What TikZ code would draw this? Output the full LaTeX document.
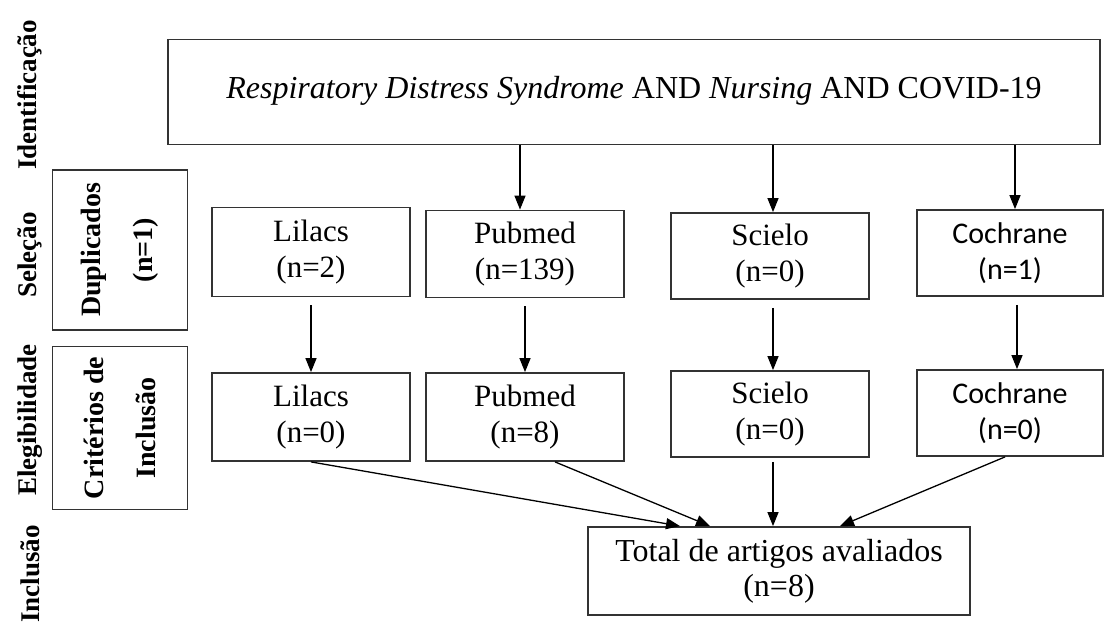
\documentclass[tikz,border=0pt]{standalone}
\usepackage{fontspec}
\setmainfont{Liberation Serif}
\newfontfamily\calibrifont{Carlito}
\usetikzlibrary{arrows.meta,positioning}

\begin{document}
\begin{tikzpicture}[x=1pt, y=-1pt, ->, >={Triangle[width=11pt,length=14pt]}, line width=1.3pt,
	box/.style={draw=black!80, line width=1.8pt, align=center, minimum width=198pt, minimum height=87pt, inner sep=0pt, font=\fontsize{31}{36}\selectfont},
	sidebox/.style={draw=black!80, line width=1.8pt, align=center, minimum width=160pt, minimum height=135pt, inner sep=0pt, rotate=90, font=\fontsize{28}{52}\selectfont\bfseries},
	phase/.style={rotate=90, inner sep=0pt, font=\fontsize{27}{30}\selectfont\bfseries}]
	\useasboundingbox (0,0) rectangle (1105,628);
	% fases
	\node[phase] (ident) at (30,95) {Identificação};
	\node[phase] (selec) at (30,255) {Seleção};
	\node[phase] (eleg) at (30,420) {Elegibilidade};
	\node[phase] (incl) at (30,574) {Inclusão};
	% caixas laterais
	\node[sidebox] (dup) at (120,250) {Duplicados\\(n=1)};
	\node[sidebox, minimum width=163pt] (crit) at (120,428) {Critérios de\\Inclusão};
	% busca
	\node[box, minimum width=932pt, minimum height=105pt, font=\fontsize{32}{36}\selectfont] (busca) at (634,92) {\raisebox{9pt}{\textit{Respiratory Distress Syndrome} AND \textit{Nursing} AND COVID-19}};
	% bases
	\node[box, minimum height=89pt] (lil1) at (311,252) {Lilacs\\(n=2)};
	\node[box] (pub1) at (525,254) {Pubmed\\(n=139)};
	\node[box, minimum height=86pt] (sci1) at (770,256) {Scielo\\(n=0)};
	\node[box, minimum width=186pt, minimum height=86pt, font=\fontsize{30}{36}\selectfont\calibrifont] (coc1) at (1010,253) {Cochrane\\(n=1)};
	% incluidos
	\node[box, minimum height=88pt] (lil2) at (311,417) {Lilacs\\(n=0)};
	\node[box, minimum height=88pt] (pub2) at (525,417) {Pubmed\\(n=8)};
	\node[box, minimum height=86pt] (sci2) at (770,414) {Scielo\\(n=0)};
	\node[box, minimum width=186pt, minimum height=86pt, font=\fontsize{30}{36}\selectfont\calibrifont] (coc2) at (1010,413) {Cochrane\\(n=0)};
	% total
	\node[box, minimum width=382pt, minimum height=88pt, font=\fontsize{32}{35}\selectfont] (tot) at (779,571) {Total de artigos avaliados\\(n=8)};
	% setas
	\draw ([xshift=-5pt]busca.south -| pub1.north) -- ([xshift=-5pt]pub1.north);
	\draw ([xshift=3pt]busca.south -| sci1.north) -- ([xshift=3pt]sci1.north);
	\draw ([xshift=5pt]busca.south -| coc1.north) -- ([xshift=5pt]coc1.north);
	\draw ([yshift=-8pt]lil1.south) -- (lil2.north);
	\draw ([yshift=-8pt]pub1.south) -- (pub2.north);
	\draw ([xshift=3pt,yshift=-8pt]sci1.south) -- ([xshift=3pt]sci2.north);
	\draw ([xshift=7pt,yshift=-8pt]coc1.south) -- ([xshift=7pt]coc2.north);
	\draw (lil2.south) -- ([xshift=-99pt]tot.north);
	\draw ([xshift=30pt]pub2.south) -- ([xshift=-69pt]tot.north);
	\draw ([xshift=3pt,yshift=-4pt]sci2.south) -- ([xshift=3pt]sci2.south |- tot.north);
	\draw ([xshift=-5pt]coc2.south) -- ([xshift=61pt]tot.north);
\end{tikzpicture}
\end{document}
